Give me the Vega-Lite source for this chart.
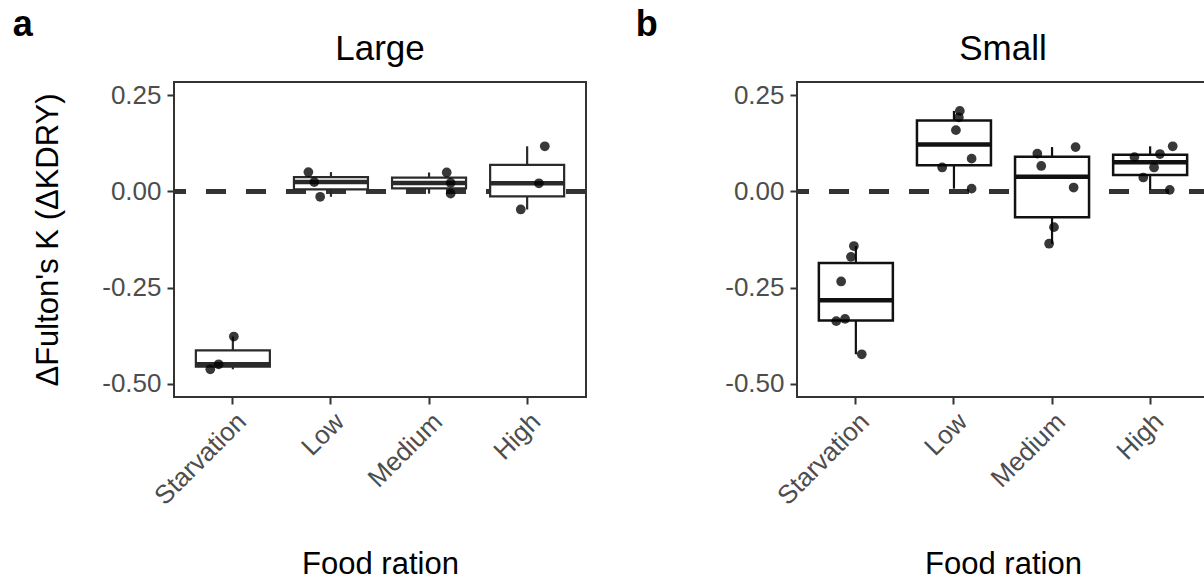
{
  "$schema": "https://vega.github.io/schema/vega-lite/v6.json",
  "padding": {"left": 12, "top": 7, "right": 0, "bottom": 0},
  "background": "white",
  "config": {
    "font": "Liberation Sans",
    "view": {"stroke": "#333333", "strokeWidth": 2},
    "axis": {
      "grid": false,
      "domain": false,
      "tickColor": "#333333",
      "tickWidth": 2,
      "tickSize": 7,
      "labelColor": "#4D4D4D",
      "labelFont": "Liberation Sans",
      "labelFontSize": 26,
      "titleFont": "Liberation Sans",
      "titleFontSize": 31,
      "titleFontWeight": "normal",
      "titleColor": "#000000"
    },
    "concat": {"spacing": 46}
  },
  "datasets": {
    "pts": [
      {"group": "Large", "ration": "Starvation", "dk": -0.377, "jitter": 0.01},
      {"group": "Large", "ration": "Starvation", "dk": -0.449, "jitter": -0.145},
      {"group": "Large", "ration": "Starvation", "dk": -0.462, "jitter": -0.23},
      {"group": "Large", "ration": "Low", "dk": 0.050, "jitter": -0.23},
      {"group": "Large", "ration": "Low", "dk": 0.024, "jitter": -0.17},
      {"group": "Large", "ration": "Low", "dk": -0.014, "jitter": -0.11},
      {"group": "Large", "ration": "Medium", "dk": 0.049, "jitter": 0.18},
      {"group": "Large", "ration": "Medium", "dk": 0.022, "jitter": 0.22},
      {"group": "Large", "ration": "Medium", "dk": -0.006, "jitter": 0.22},
      {"group": "Large", "ration": "High", "dk": 0.117, "jitter": 0.18},
      {"group": "Large", "ration": "High", "dk": 0.021, "jitter": 0.12},
      {"group": "Large", "ration": "High", "dk": -0.047, "jitter": -0.065},
      {"group": "Small", "ration": "Starvation", "dk": -0.142, "jitter": -0.02},
      {"group": "Small", "ration": "Starvation", "dk": -0.170, "jitter": -0.05},
      {"group": "Small", "ration": "Starvation", "dk": -0.234, "jitter": -0.15},
      {"group": "Small", "ration": "Starvation", "dk": -0.331, "jitter": -0.11},
      {"group": "Small", "ration": "Starvation", "dk": -0.337, "jitter": -0.20},
      {"group": "Small", "ration": "Starvation", "dk": -0.423, "jitter": 0.06},
      {"group": "Small", "ration": "Low", "dk": 0.209, "jitter": 0.06},
      {"group": "Small", "ration": "Low", "dk": 0.192, "jitter": 0.05},
      {"group": "Small", "ration": "Low", "dk": 0.159, "jitter": 0.02},
      {"group": "Small", "ration": "Low", "dk": 0.085, "jitter": 0.18},
      {"group": "Small", "ration": "Low", "dk": 0.062, "jitter": -0.12},
      {"group": "Small", "ration": "Low", "dk": 0.007, "jitter": 0.18},
      {"group": "Small", "ration": "Medium", "dk": 0.115, "jitter": 0.24},
      {"group": "Small", "ration": "Medium", "dk": 0.098, "jitter": -0.15},
      {"group": "Small", "ration": "Medium", "dk": 0.066, "jitter": -0.11},
      {"group": "Small", "ration": "Medium", "dk": 0.010, "jitter": 0.22},
      {"group": "Small", "ration": "Medium", "dk": -0.093, "jitter": 0.02},
      {"group": "Small", "ration": "Medium", "dk": -0.136, "jitter": -0.03},
      {"group": "Small", "ration": "High", "dk": 0.117, "jitter": 0.23},
      {"group": "Small", "ration": "High", "dk": 0.097, "jitter": 0.10},
      {"group": "Small", "ration": "High", "dk": 0.089, "jitter": -0.16},
      {"group": "Small", "ration": "High", "dk": 0.062, "jitter": 0.04},
      {"group": "Small", "ration": "High", "dk": 0.036, "jitter": -0.07},
      {"group": "Small", "ration": "High", "dk": 0.004, "jitter": 0.20}
    ]
  },
  "hconcat": [
    {
      "title": {"text": "a", "anchor": "start", "frame": "bounds", "fontSize": 36, "fontWeight": "bold", "color": "#000000", "dx": -19, "offset": -13},
      "vconcat": [
        {
          "title": {"text": "Large", "anchor": "middle", "frame": "group", "fontSize": 35, "fontWeight": "normal", "color": "#000000", "offset": 15},
          "width": 412,
          "height": 315,
          "data": {"name": "pts"},
          "transform": [{"filter": "datum.group === 'Large'"}],
          "layer": [
            {
              "mark": {"type": "rule", "strokeDash": [20, 20], "strokeWidth": 4, "color": "#333333"},
              "encoding": {"y": {"datum": 0, "type": "quantitative", "scale": {"domain": [-0.534, 0.284], "nice": false, "zero": false}}}
            },
            {
              "mark": {"type": "boxplot", "extent": "min-max", "size": 74,
                "box": {"color": "white", "stroke": "#2a2a2a", "strokeWidth": 2.2},
                "median": {"color": "#2a2a2a", "thickness": 4.5, "opacity": 1},
                "rule": {"color": "#2a2a2a", "strokeWidth": 2.2}},
              "encoding": {
                "x": {"field": "ration", "type": "nominal", "sort": ["Starvation", "Low", "Medium", "High"], "scale": {"paddingInner": 0, "paddingOuter": 0.1}, "title": "Food ration", "axis": {"labelAngle": -45, "labelAlign": "right", "labelBaseline": "top", "labelPadding": 4, "titlePadding": 40}},
                "y": {"field": "dk", "type": "quantitative", "scale": {"domain": [-0.534, 0.284], "nice": false, "zero": false}, "title": "ΔFulton's K (ΔKDRY)", "axis": {"values": [-0.5, -0.25, 0, 0.25], "labelExpr": "datum.value < 0 ? '-' + format(-datum.value, '.2f') : format(datum.value, '.2f')", "labelPadding": 6, "titlePadding": 37}}
              }
            },
            {
              "mark": {"type": "point", "filled": true, "size": 95, "color": "#000000", "opacity": 0.78},
              "encoding": {
                "x": {"field": "ration", "type": "nominal", "sort": ["Starvation", "Low", "Medium", "High"]},
                "xOffset": {"field": "jitter", "type": "quantitative", "scale": {"domain": [-0.5, 0.5]}},
                "y": {"field": "dk", "type": "quantitative"}
              }
            }
          ]
        }
      ]
    },
    {
      "title": {"text": "b", "anchor": "start", "frame": "bounds", "fontSize": 36, "fontWeight": "bold", "color": "#000000", "dx": -88, "offset": -13},
      "vconcat": [
        {
          "title": {"text": "Small", "anchor": "middle", "frame": "group", "fontSize": 35, "fontWeight": "normal", "color": "#000000", "offset": 15},
          "width": 412,
          "height": 315,
          "data": {"name": "pts"},
          "transform": [{"filter": "datum.group === 'Small'"}],
          "layer": [
            {
              "mark": {"type": "rule", "strokeDash": [20, 20], "strokeWidth": 4, "color": "#333333"},
              "encoding": {"y": {"datum": 0, "type": "quantitative", "scale": {"domain": [-0.534, 0.284], "nice": false, "zero": false}}}
            },
            {
              "mark": {"type": "boxplot", "extent": "min-max", "size": 74,
                "box": {"color": "white", "stroke": "#111111", "strokeWidth": 2.5},
                "median": {"color": "#111111", "thickness": 4.5, "opacity": 1},
                "rule": {"color": "#111111", "strokeWidth": 2.2}},
              "encoding": {
                "x": {"field": "ration", "type": "nominal", "sort": ["Starvation", "Low", "Medium", "High"], "scale": {"paddingInner": 0, "paddingOuter": 0.1}, "title": "Food ration", "axis": {"labelAngle": -45, "labelAlign": "right", "labelBaseline": "top", "labelPadding": 4, "titlePadding": 40}},
                "y": {"field": "dk", "type": "quantitative", "scale": {"domain": [-0.534, 0.284], "nice": false, "zero": false}, "title": null, "axis": {"values": [-0.5, -0.25, 0, 0.25], "labelExpr": "datum.value < 0 ? '-' + format(-datum.value, '.2f') : format(datum.value, '.2f')", "labelPadding": 6}}
              }
            },
            {
              "mark": {"type": "point", "filled": true, "size": 95, "color": "#000000", "opacity": 0.78},
              "encoding": {
                "x": {"field": "ration", "type": "nominal", "sort": ["Starvation", "Low", "Medium", "High"]},
                "xOffset": {"field": "jitter", "type": "quantitative", "scale": {"domain": [-0.5, 0.5]}},
                "y": {"field": "dk", "type": "quantitative"}
              }
            }
          ]
        }
      ]
    }
  ]
}
